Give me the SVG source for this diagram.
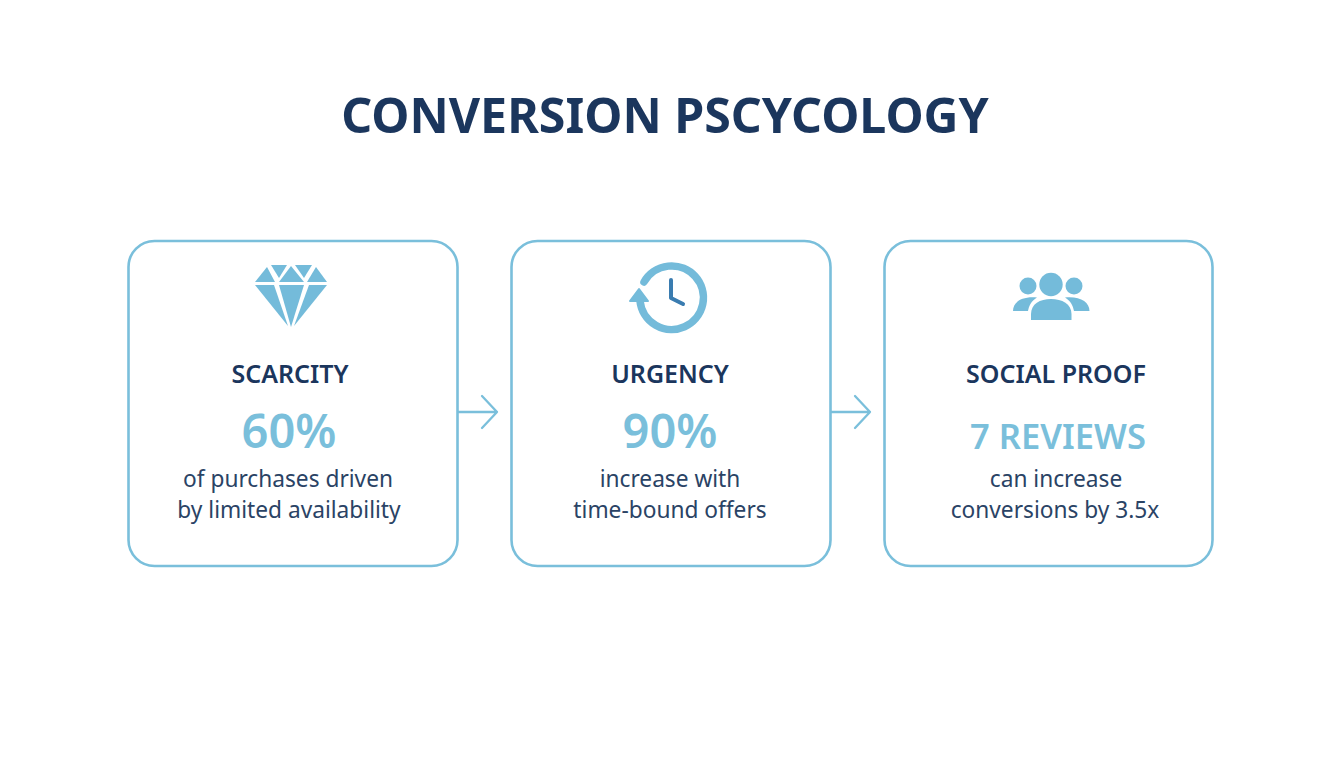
<svg xmlns="http://www.w3.org/2000/svg" width="1344" height="768" viewBox="0 0 1344 768">
<style>
text{font-family:"Noto Sans","Open Sans",sans-serif;text-anchor:middle}
.card{fill:#fff;stroke:#7abfdb;stroke-width:2.6}
.title{font-size:48.300px;font-weight:700;fill:#1b365d}
.head{font-size:25px;font-weight:600;fill:#1b365d}
.stat{font-size:47px;font-weight:600;fill:#7abfdb}
.stat2{font-size:34.500px;font-weight:600;fill:#7abfdb}
.body{font-size:22.700px;fill:#2a4365}
.conn{fill:none;stroke:#7abfdb;stroke-width:2.3;stroke-linecap:round;stroke-linejoin:round}
.ic{fill:#74bbda}
</style>
<rect width="1344" height="768" fill="#fff"/>
<text class="title" x="665" y="133">CONVERSION PSCYCOLOGY</text>
<g id="connectors">
<path class="conn" d="M458 412H497M482 396L497 412L482 428"/>
<path class="conn" d="M831 412H870M855 396L870 412L855 428"/>
</g>
<g id="node-scarcity">
<rect class="card" x="128.500" y="241" width="329" height="325" rx="26"/>
<g class="ic">
<polygon points="271,265 287,265 279,278"/>
<polygon points="295,265 312,265 304,278"/>
<polygon points="291,266 304,282 279,282"/>
<polygon points="267,267 275,282 255,282"/>
<polygon points="316,267 327,282 307,282"/>
<polygon points="255,285 274,285 288,326"/>
<polygon points="279,285 304,285 291,327"/>
<polygon points="309,285 327,285 294,326"/>
</g>
<text class="head" x="290" y="383">SCARCITY</text>
<text class="stat" x="289" y="448">60%</text>
<text class="body" x="288" y="486.500">of purchases driven</text>
<text class="body" x="289" y="517.500">by limited availability</text>
</g>
<g id="node-urgency">
<rect class="card" x="511.500" y="241" width="319" height="325" rx="26"/>
<path d="M644 282A31.800 31.800 0 1 1 640 301" fill="none" stroke="#74bbda" stroke-width="7.500" stroke-linecap="round"/>
<polygon points="639,289 648,301 630,301" fill="#74bbda" stroke="#74bbda" stroke-width="2" stroke-linejoin="round"/>
<path d="M671 280V298L683 304" fill="none" stroke="#3a7cb0" stroke-width="4" stroke-linecap="round" stroke-linejoin="round"/>
<text class="head" x="670" y="383">URGENCY</text>
<text class="stat" x="670" y="448">90%</text>
<text class="body" x="670" y="486.500">increase with</text>
<text class="body" x="670" y="517.500">time-bound offers</text>
</g>
<g id="node-social-proof">
<rect class="card" x="884.500" y="241" width="328" height="325" rx="26"/>
<g class="ic">
<circle cx="1028" cy="286" r="8.500"/>
<circle cx="1074" cy="286" r="8.500"/>
<circle cx="1051" cy="284.500" r="11.700"/>
<path d="M1013 311C1013 302 1022 296 1037 297.500C1031 301 1029 306 1028 311Z"/>
<path d="M1089.500 311C1089.500 302 1080 296 1065 297.500C1071 301 1073 306 1074 311Z"/>
<path d="M1031 320V314C1031 304 1040 299 1051 299C1062 299 1071.500 304 1071.500 314V320Z"/>
</g>
<text class="head" x="1056" y="383">SOCIAL PROOF</text>
<text class="stat2" x="1058" y="449">7 REVIEWS</text>
<text class="body" x="1056" y="486.500">can increase</text>
<text class="body" x="1055" y="517.500">conversions by 3.5x</text>
</g>
</svg>
